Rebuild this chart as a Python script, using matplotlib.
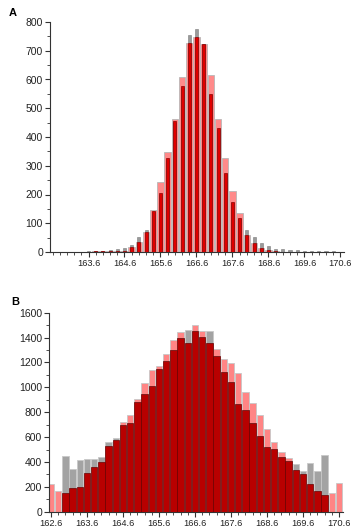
import matplotlib
matplotlib.use("Agg")
import matplotlib.pyplot as plt
from matplotlib.ticker import MultipleLocator, FixedLocator

plt.rcParams["font.family"] = ["Liberation Sans", "DejaVu Sans"]

# bin centres, shared by both panels
bins = [162.6, 162.8, 163.0, 163.2, 163.4, 163.6, 163.8, 164.0, 164.2, 164.4,
        164.6, 164.8, 165.0, 165.2, 165.4, 165.6, 165.8, 166.0, 166.2, 166.4,
        166.6, 166.8, 167.0, 167.2, 167.4, 167.6, 167.8, 168.0, 168.2, 168.4,
        168.6, 168.8, 169.0, 169.2, 169.4, 169.6, 169.8, 170.0, 170.2, 170.4,
        170.6]

# panel A counts
a_pink = [0, 0, 0, 1, 1, 1, 2, 2, 5, 3, 5, 17, 35, 70, 145, 243, 347, 462, 608, 728,
          747, 722, 615, 462, 327, 213, 137, 58, 30, 15, 6, 4, 1, 0, 0, 0, 0, 0, 0, 0, 0]
a_grey = [0, 0, 0, 1, 1, 2, 3, 5, 6, 10, 15, 25, 53, 77, 140, 200, 320, 450, 570, 755,
          775, 725, 545, 425, 270, 170, 115, 77, 53, 33, 21, 12, 12, 8, 6, 5, 4, 3, 3, 2, 1]
a_red = [0, 0, 0, 1, 1, 1, 2, 2, 5, 3, 5, 17, 35, 70, 143, 204, 326, 455, 577, 728,
         747, 722, 550, 431, 274, 175, 117, 58, 30, 15, 6, 4, 1, 0, 0, 0, 0, 0, 0, 0, 0]

# panel B counts
b_pink = [224, 167, 152, 190, 197, 310, 358, 402, 530, 580, 718, 777, 906, 1034, 1139,
          1171, 1268, 1381, 1441, 1355, 1503, 1449, 1355, 1306, 1228, 1198, 1112, 959,
          870, 776, 662, 557, 482, 431, 339, 304, 224, 164, 137, 151, 232]
b_grey = [0, 0, 450, 345, 415, 423, 423, 439, 557, 595, 697, 710, 886, 945, 1012, 1145,
          1212, 1300, 1395, 1462, 1449, 1408, 1449, 1255, 1120, 1045, 864, 816, 713, 608,
          520, 501, 439, 404, 380, 331, 390, 331, 458, 0, 0]
b_red = [0, 0, 152, 190, 197, 310, 358, 402, 530, 580, 697, 710, 886, 945, 1012, 1145,
         1212, 1300, 1395, 1355, 1449, 1408, 1355, 1255, 1120, 1045, 864, 816, 713, 608,
         520, 501, 439, 404, 339, 304, 224, 164, 137, 0, 0]

a_ticks = [163.6, 164.6, 165.6, 166.6, 167.6, 168.6, 169.6, 170.6]
b_ticks = [162.6] + a_ticks


def style_axes(ax, ymax, ystep, major):
    for side in ("top", "right"):
        ax.spines[side].set_visible(False)
    for side in ("left", "bottom"):
        ax.spines[side].set_color("#333333")
        ax.spines[side].set_linewidth(0.8)
    ax.set_ylim(0, ymax)
    ax.yaxis.set_major_locator(MultipleLocator(ystep))
    ax.yaxis.set_minor_locator(MultipleLocator(ystep / 2))
    ax.xaxis.set_major_locator(FixedLocator(major))
    ax.xaxis.set_minor_locator(FixedLocator(bins))
    ax.set_xticklabels([f"{t:.1f}" for t in major])
    ax.tick_params(which="major", length=3.5, width=0.8, color="#333333",
                   labelsize=7.5, pad=1.5, labelcolor="#222222")
    ax.tick_params(which="minor", length=2, width=0.6, color="#333333")
    ax.tick_params(axis="x", labelsize=6.7, pad=1.5)


fig = plt.figure(figsize=(3.52, 5.29), dpi=100)

# panel A
ax1 = fig.add_axes([50 / 352, 1 - 252 / 529, 294 / 352, 230 / 529])
ax1.bar(bins, a_pink, width=0.18, color="#ff8a8a", edgecolor="#b8b8b8", linewidth=0.6, zorder=1)
ax1.bar(bins, a_grey, width=0.085, color="#9a9a9a", edgecolor="#7a7a7a", linewidth=0.4, zorder=2)
ax1.bar(bins, a_red, width=0.085, color="#e00000", edgecolor="#8b0000", linewidth=0.5, zorder=3)
ax1.set_xlim(162.53, 170.7)
style_axes(ax1, 800, 100, a_ticks)
fig.text(13 / 352, 1 - 13 / 529, "A", fontsize=8, fontweight="bold", va="center", ha="center")

# panel B
ax2 = fig.add_axes([49 / 352, 1 - 511.7 / 529, 294 / 352, 199 / 529])
ax2.bar(bins, b_pink, width=0.18, color="#ff8585", edgecolor="#c8c8c8", linewidth=0.6, zorder=1)
ax2.bar(bins, b_grey, width=0.18, color="#a3a3a3", edgecolor="#c8c8c8", linewidth=0.6, zorder=2)
ax2.bar(bins, b_red, width=0.18, color="#b80000", edgecolor="#6a0000", linewidth=0.5, zorder=3)
ax2.set_xlim(162.545, 170.71)
style_axes(ax2, 1600, 200, b_ticks)
fig.text(15 / 352, 1 - 302 / 529, "B", fontsize=8, fontweight="bold", va="center", ha="center")

fig.savefig("out.png", dpi=100)
